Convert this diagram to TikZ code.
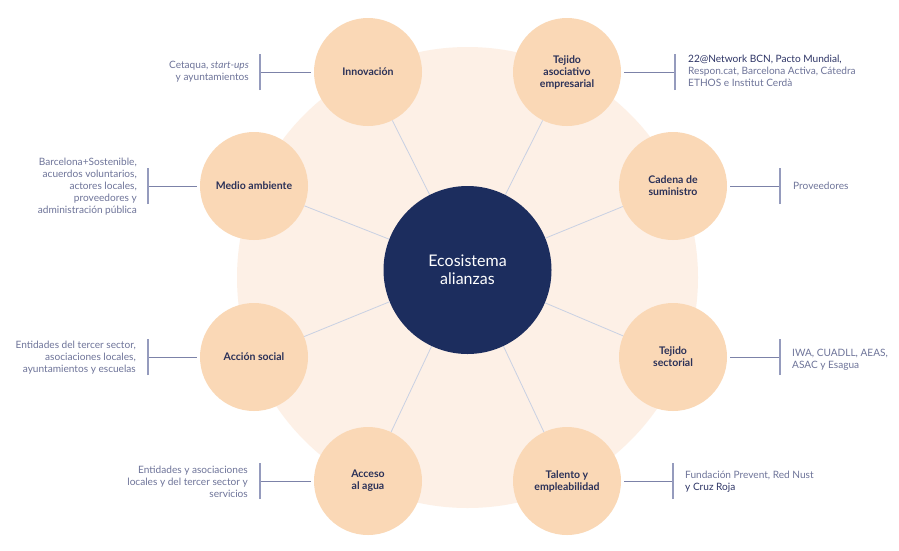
\documentclass[tikz,border=0pt]{standalone}
\usepackage{fontspec}
\setmainfont{Lato}
\definecolor{peach}{HTML}{FAD8B6}
\definecolor{bgc}{HTML}{FDF0E6}
\definecolor{navy}{HTML}{1C2D5E}
\definecolor{linkc}{HTML}{C9D1E3}
\definecolor{leadc}{HTML}{7C82A8}
\definecolor{barc}{HTML}{959BBD}
\definecolor{notec}{HTML}{6E7499}
\definecolor{darkc}{HTML}{2E3566}
\definecolor{labelc}{HTML}{2B3158}
\begin{document}
\begin{tikzpicture}[x=1pt,y=-1pt,
  sat/.style={circle, fill=peach, minimum size=108pt, inner sep=0pt, align=center, text=labelc, font=\bfseries\fontsize{10.5}{12}\selectfont},
  hub/.style={circle, fill=navy, minimum size=168pt, inner sep=0pt, align=center, text=white, font=\fontsize{16}{18}\selectfont},
  link/.style={draw=linkc, line width=0.8pt},
  lead/.style={draw=leadc, line width=0.9pt, shorten <=3pt},
  barline/.style={draw=barc, line width=1.4pt},
  notel/.style={anchor=west, align=left, text=notec, inner sep=0pt, font=\fontsize{10.1}{12}\selectfont},
  noter/.style={anchor=east, align=right, text=notec, inner sep=0pt, font=\fontsize{10.1}{12}\selectfont}]
\fill[white] (0,0) rectangle (899,550);
\useasboundingbox (0,0) rectangle (899,550);
\fill[bgc] (467.5,277.5) circle[radius=230.5pt];

\node[hub] (hub) at (467.5,270) {Ecosistema\\alianzas};

\node[sat] (inn) at (368,72) {Innovación};
\node[sat] (tej) at (567,72) {Tejido\\asociativo\\empresarial};
\node[sat] (med) at (254,186) {Medio ambiente};
\node[sat] (cad) at (673,186) {Cadena de\\suministro};
\node[sat] (acc) at (254,357) {Acción social};
\node[sat] (sec) at (673,357) {Tejido\\sectorial};
\node[sat] (agu) at (368,481) {Acceso\\al agua};
\node[sat] (tal) at (567,481) {Talento y\\empleabilidad};

\foreach \s in {inn,tej,med,cad,acc,sec,agu,tal}
  \draw[link] (hub) -- (\s);

% bars
\coordinate (innb) at (260,72);
\coordinate (tejb) at (675,72);
\coordinate (medb) at (148,186);
\coordinate (cadb) at (780,186);
\coordinate (accb) at (148,357);
\coordinate (secb) at (780,357);
\coordinate (agub) at (260,481);
\coordinate (talb) at (673,481);

\foreach \s/\side in {inn/west,med/west,acc/west,agu/west,tej/east,cad/east,sec/east,tal/east}{
  \draw[lead] (\s.\side) -- (\s.\side -| \s b);
  \draw[barline] ([yshift=-18pt]\s b) -- ([yshift=18pt]\s b);
}

\node[noter] (innt) at (249,72) {Cetaqua, \textit{start-ups}\\y ayuntamientos};
\node[notel] (tejt) at (688,71) {\textcolor{darkc}{22@Network BCN, Pacto Mundial,}\\Respon.cat, Barcelona Activa, Cátedra\\ETHOS e Institut Cerdà};
\node[noter] (medt) at (137,187) {Barcelona+Sostenible,\\acuerdos voluntarios,\\actores locales,\\proveedores y\\administración pública};
\node[notel] (cadt) at (793,186) {Proveedores};
\node[noter] (acct) at (136,358) {Entidades del tercer sector,\\asociaciones locales,\\ayuntamientos y escuelas};
\node[notel] (sect) at (792,360) {IWA, CUADLL, AEAS,\\ASAC y Esagua};
\node[noter] (agut) at (248,482) {Entidades y asociaciones\\locales y del tercer sector y\\servicios};
\node[notel] (talt) at (685,482) {Fundación Prevent, Red Nust\\\textcolor{darkc}{y Cruz Roja}};
\end{tikzpicture}
\end{document}
